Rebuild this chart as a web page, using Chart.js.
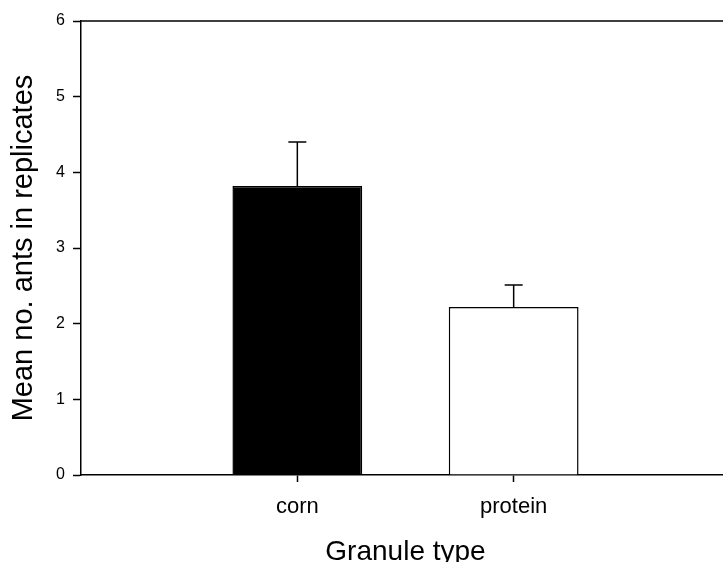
<!DOCTYPE html>
<html>
<head>
<meta charset="utf-8">
<script src="https://cdn.jsdelivr.net/npm/chart.js@4"></script>
<style>
    html, body { margin: 0; padding: 0; background: #fff; overflow: hidden; }
    #wrap { position: relative; width: 742px; height: 562px; }
</style>
</head>
<body>
<div id="wrap"><canvas id="ants-chart"></canvas></div>
<script>
// Mean number of ants per granule type, with standard error
const categories = ['corn', 'protein'];
const meanAnts = [3.82, 2.22];
const stdErr = [0.58, 0.29];
const barColors = ['#000000', '#ffffff'];
const yTicks = [0, 1, 2, 3, 4, 5, 6];

// empty slots either side so the bars sit where they do in the original
const labels = ['', ...categories, ''];
const values = [null, ...meanAnts, null];
const errors = [null, ...stdErr, null];

const FONT = "'Liberation Sans', Arial, sans-serif";

// draws the upper error whiskers and the top frame line
const errorBarPlugin = {
    id: 'errorBars',
    afterDatasetsDraw(chart) {
        const ctx = chart.ctx;
        const meta = chart.getDatasetMeta(0);
        const yScale = chart.scales.y;
        ctx.save();
        ctx.strokeStyle = '#000';
        ctx.lineWidth = 1.5;
        meta.data.forEach((bar, i) => {
            if (values[i] == null) return;
            const yTop = yScale.getPixelForValue(values[i] + errors[i]);
            ctx.beginPath();
            ctx.moveTo(bar.x, bar.y);
            ctx.lineTo(bar.x, yTop);
            ctx.moveTo(bar.x - 9, yTop);
            ctx.lineTo(bar.x + 9, yTop);
            ctx.stroke();
        });
        const area = chart.chartArea;
        ctx.beginPath();
        ctx.moveTo(area.left, area.top);
        ctx.lineTo(area.right, area.top);
        ctx.stroke();
        ctx.restore();
    }
};

const ctx = document.getElementById('ants-chart').getContext('2d');
new Chart(ctx, {
    type: 'bar',
    data: {
        labels: labels,
        datasets: [{
            data: values,
            backgroundColor: ['#fff', ...barColors, '#fff'],
            borderColor: '#000',
            borderWidth: 1.5,
            categoryPercentage: 1,
            barPercentage: 0.6
        }]
    },
    options: {
        responsive: true,
        maintainAspectRatio: false,
        animation: false,
        layout: {
            padding: { top: 21, right: 1, left: 0, bottom: 0 }
        },
        plugins: {
            legend: { display: false },
            tooltip: { enabled: false }
        },
        scales: {
            x: {
                offset: false,
                grid: {
                    offset: false,
                    drawOnChartArea: false,
                    tickLength: 7,
                    tickWidth: 1.5,
                    tickColor: (c) => (labels[c.index] ? '#000' : 'rgba(0,0,0,0)')
                },
                border: { color: '#000', width: 1.5 },
                ticks: {
                    color: '#000',
                    padding: 12,
                    maxRotation: 0,
                    autoSkip: false,
                    font: { family: FONT, size: 22 }
                },
                title: {
                    display: true,
                    text: 'Granule type',
                    color: '#000',
                    padding: 0,
                    font: { family: FONT, size: 28, lineHeight: 0.72 }
                },
                afterFit: (scale) => { scale.height = 87; }
            },
            y: {
                min: yTicks[0],
                max: yTicks[yTicks.length - 1],
                afterBuildTicks: (scale) => {
                    scale.ticks = yTicks.map(v => ({ value: v }));
                },
                grid: {
                    drawOnChartArea: false,
                    tickLength: 8,
                    tickWidth: 1.5,
                    tickColor: '#000'
                },
                border: { color: '#000', width: 1.5 },
                ticks: {
                    color: '#000',
                    padding: 8,
                    font: { family: FONT, size: 16 }
                },
                title: {
                    display: true,
                    text: 'Mean no. ants in replicates',
                    color: '#000',
                    padding: { top: 13, bottom: 0 },
                    font: { family: FONT, size: 29, lineHeight: 0.75 }
                },
                afterFit: (scale) => { scale.width = 81; }
            }
        }
    },
    plugins: [errorBarPlugin]
});
</script>
</body>
</html>
